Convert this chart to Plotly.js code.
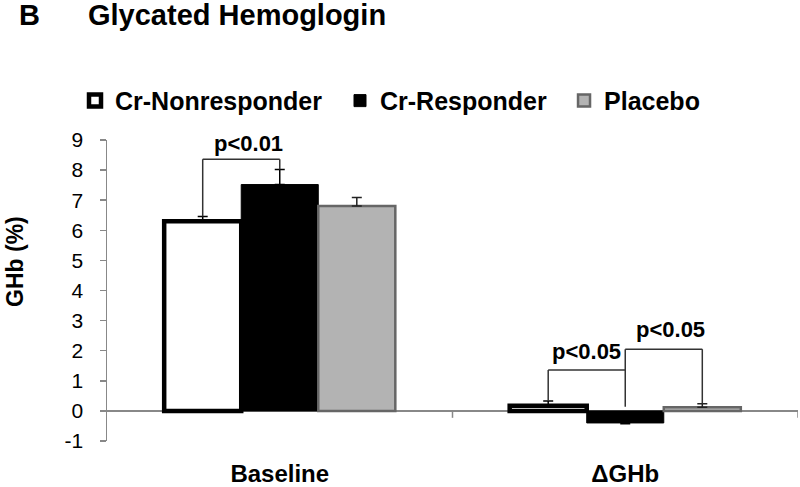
<!DOCTYPE html>
<html>
<head>
<meta charset="utf-8">
<script src="https://cdn.plot.ly/plotly-3.0.1.min.js"></script>
<style>html,body{margin:0;padding:0;background:#fff;}#chart{width:800px;height:487px;}</style>
</head>
<body>
<div id="chart"></div>
<script>
// ---- data ----
const categories = ['Baseline', '\u0394GHb'];
const nonresponder = [6.3, 0.17];
const nonresponderErrPlus = [0.16, 0.16];
const nonresponderErrMinus = [0, 0];
const responder = [7.52, -0.4];
const responderErrPlus = [0.5, 0];
const responderErrMinus = [0, 0.03];
const placebo = [6.81, 0.12];
const placeboErrPlus = [0.28, 0.12];
const placeboErrMinus = [0, 0];
const seriesNames = ['Cr-Nonresponder', 'Cr-Responder', 'Placebo'];
const yTicks = [-1, 0, 1, 2, 3, 4, 5, 6, 7, 8, 9];
const pLabels = ['p<0.01', 'p<0.05', 'p<0.05'];

// ---- layout helpers ----
const FONT = 'Liberation Sans, Arial, sans-serif';
const bargap = 0.331;
const w = (1 - bargap) / 3; // width of one bar in category units
const off = [-w, 0, w];

function errBar(plus, minus, color) {
  return {type: 'data', symmetric: false, array: plus, arrayminus: minus,
          color: color, thickness: 1.5, width: 5, visible: true};
}

const traces = [
  {type: 'bar', name: seriesNames[0], x: categories, y: nonresponder, legend: 'legend',
   marker: {color: '#ffffff', line: {color: '#000000', width: 4.5}},
   error_y: errBar(nonresponderErrPlus, nonresponderErrMinus, '#000000')},
  {type: 'bar', name: seriesNames[1], x: categories, y: responder, legend: 'legend2',
   marker: {color: '#000000', line: {color: '#000000', width: 1}},
   error_y: errBar(responderErrPlus, responderErrMinus, '#000000')},
  {type: 'bar', name: seriesNames[2], x: categories, y: placebo, legend: 'legend3',
   marker: {color: '#b3b3b3', line: {color: '#666666', width: 2.5}},
   error_y: errBar(placeboErrPlus, placeboErrMinus, '#222222')}
];

// bracket tops derived from data
const topNR = nonresponder.map((v, i) => v + nonresponderErrPlus[i]);
const topR = responder.map((v, i) => v + responderErrPlus[i]);
const topP = placebo.map((v, i) => v + placeboErrPlus[i]);

const lineStyle = {color: '#333333', width: 1.5};
function seg(x0, y0, x1, y1) {
  return {type: 'line', xref: 'x', yref: 'y', x0: x0, y0: y0, x1: x1, y1: y1, line: lineStyle};
}
const brk1 = 8.36, brkA = 1.36, brkB = 2.05;
const shapes = [
  // Baseline bracket
  seg(0 + off[0], topNR[0], 0 + off[0], brk1),
  seg(0 + off[0], brk1, 0 + off[1], brk1),
  seg(0 + off[1], brk1, 0 + off[1], topR[0]),
  // Delta bracket A
  seg(1 + off[0], topNR[1], 1 + off[0], brkA),
  seg(1 + off[0], brkA, 1 + off[1], brkA),
  seg(1 + off[1], brkB, 1 + off[1], 0.14),
  // Delta bracket B
  seg(1 + off[1], brkB, 1 + off[2], brkB),
  seg(1 + off[2], brkB, 1 + off[2], topP[1]),
  // category boundary ticks on the zero line
  {type: 'line', xref: 'x', yref: 'y', x0: 0.5, x1: 0.5, y0: 0, y1: -0.23, line: {color: '#888888', width: 1.5}},
  {type: 'line', xref: 'x', yref: 'y', x0: 1.5, x1: 1.5, y0: 0, y1: -0.23, line: {color: '#888888', width: 1.5}}
];

const annFont = {family: FONT, size: 22, color: '#000000', weight: 'bold'};
const annotations = [
  {xref: 'x', yref: 'y', x: -0.09, y: 8.87, text: '<b>' + pLabels[0] + '</b>', showarrow: false, font: annFont, xanchor: 'center', yanchor: 'middle'},
  {xref: 'x', yref: 'y', x: 1 - w / 2, y: 1.96, text: '<b>' + pLabels[1] + '</b>', showarrow: false, font: annFont, xanchor: 'center', yanchor: 'middle'},
  {xref: 'x', yref: 'y', x: 1.13, y: 2.69, text: '<b>' + pLabels[2] + '</b>', showarrow: false, font: annFont, xanchor: 'center', yanchor: 'middle'},
  {xref: 'paper', yref: 'paper', x: -0.130, y: 1.415, text: '<b>B</b>', showarrow: false,
   font: {family: FONT, size: 29, color: '#000000'}, xanchor: 'left', yanchor: 'middle'},
  {xref: 'paper', yref: 'paper', x: -0.1331, y: 0.595, text: '<b>GHb (%)</b>', showarrow: false, textangle: -90,
   borderpad: 0, font: {family: FONT, size: 23, color: '#000000'}, xanchor: 'center', yanchor: 'middle'}
];

const legFont = {family: FONT, size: 25, color: '#000000', weight: 'bold'};
function leg(x) {
  return {orientation: 'h', xref: 'paper', yref: 'paper', x: x, y: 1.13, yanchor: 'middle', xanchor: 'left',
          font: legFont, bgcolor: 'rgba(0,0,0,0)'};
}

const layout = {
  width: 800, height: 487,
  margin: {l: 107, r: 2, t: 140, b: 46, pad: 0, autoexpand: false},
  paper_bgcolor: '#ffffff', plot_bgcolor: '#ffffff',
  font: {family: FONT, color: '#000000'},
  title: {text: '<b>Glycated Hemoglogin</b>', xref: 'container', yref: 'container',
          x: 0.11, xanchor: 'left', y: 0.969, yanchor: 'middle',
          font: {family: FONT, size: 29, color: '#000000'}},
  barmode: 'group', bargap: bargap, bargroupgap: 0,
  showlegend: true,
  legend: leg(-0.0463),
  legend2: leg(0.3372),
  legend3: leg(0.6614),
  xaxis: {type: 'category', range: [-0.5, 1.5], showline: false, showgrid: false, zeroline: false,
          ticks: '', ticklabelstandoff: 16,
          tickfont: {family: FONT, size: 24, color: '#000000', weight: 'bold'}, fixedrange: true},
  yaxis: {range: [-1, 9], tickvals: yTicks, ticktext: yTicks.map(String), showline: true, linecolor: '#888888', linewidth: 1.5,
          ticks: 'outside', ticklen: 6, tickcolor: '#888888', tickwidth: 1.5, ticklabelstandoff: 12,
          showgrid: false, zeroline: true, zerolinecolor: '#888888', zerolinewidth: 1.5,
          tickfont: {family: FONT, size: 21, color: '#000000'}, fixedrange: true},
  shapes: shapes,
  annotations: annotations
};

Plotly.newPlot('chart', traces, layout, {displayModeBar: false, staticPlot: true});
</script>
</body>
</html>
